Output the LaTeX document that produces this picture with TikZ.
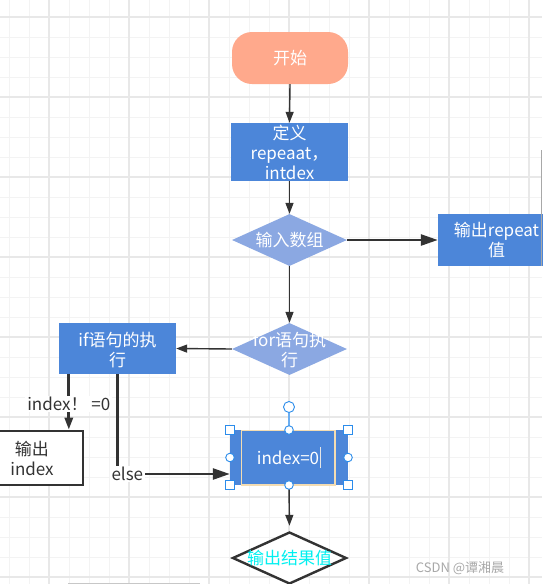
\documentclass[tikz,border=0pt]{standalone}
\usepackage{fontspec}
\setmainfont{Noto Sans CJK SC}
\usetikzlibrary{shapes.geometric,arrows.meta}
\definecolor{gridthin}{HTML}{F3F3F3}
\definecolor{gridthick}{HTML}{E8E8E8}
\definecolor{salmon}{HTML}{FFA98C}
\definecolor{boxblue}{HTML}{4C86D9}
\definecolor{diablue}{HTML}{8BA8E2}
\definecolor{linec}{HTML}{333333}
\definecolor{handlec}{HTML}{2B8CEB}
\definecolor{tanc}{HTML}{F3DCB2}
\definecolor{markc}{HTML}{A8A8A8}
\definecolor{cyanc}{HTML}{00F0F0}
\begin{document}
\begin{tikzpicture}[x=1pt,y=-1pt,
  txt/.style={font=\fontsize{17}{20}\selectfont, align=center, inner sep=0pt},
  wtxt/.style={txt, text=white},
  proc/.style={rectangle, fill=boxblue, inner sep=0pt, minimum width=117pt, minimum height=52pt},
  dec/.style={diamond, fill=diablue, inner sep=0pt, minimum width=115pt, minimum height=52pt},
  arr/.style={draw=linec, line width=1.4pt, -{Triangle[length=11pt,width=8pt]}},
  arrb/.style={draw=linec, line width=2.6pt, -{Triangle[length=17pt,width=11pt]}},
  arrm/.style={draw=linec, line width=2.8pt, -{Triangle[length=12pt,width=8pt]}},
  lbl/.style={txt, fill=white, text=linec, inner xsep=2pt, inner ysep=1pt},
  hsq/.style={draw=handlec, fill=white, line width=0.9pt},
]
\useasboundingbox (0,0) rectangle (542,584);
\fill[white] (0,0) rectangle (542,584);
% grid
\foreach \x in {9,29,...,541} \draw[gridthin, line width=1pt] (\x,0) -- (\x,584);
\foreach \y in {17,37,...,584} \draw[gridthin, line width=1pt] (0,\y) -- (542,\y);
\foreach \x in {49,129,...,541} \draw[gridthick, line width=1.4pt] (\x,0) -- (\x,584);
\foreach \y in {17,97,...,584} \draw[gridthick, line width=1.4pt] (0,\y) -- (542,\y);
% bottom scrollbar
\draw[black!22, line width=2pt] (68,583.5) -- (200,583.5);

% nodes
\node[rectangle, rounded corners=20pt, fill=salmon, minimum width=116pt, minimum height=52pt, inner sep=0pt] (start) at (290,58) {};
\node[wtxt] (startT) at (start) {开始};

\node[proc, minimum height=58pt] (def) at (289.5,152) {};
\node[wtxt] (defT) at (289.5,152.5) {定义\\repeaat，\\intdex};

\node[dec] (in) at (289.5,240) {};
\node[wtxt] (inT) at (in) {输入数组};

\node[proc] (rep) at (496.5,240) {};
\node[wtxt] (repT) at (rep) {输出repeat\\值};
% right window border
\draw[markc, line width=1pt] (541,150) -- (541,266);

\node[dec] (for) at (289.5,349) {};
\node[wtxt] (forT) at (289.5,350) {for语句执\\行};

\node[proc, minimum height=51pt] (if) at (117.5,348.5) {};
\node[wtxt] (ifT) at (117.5,350) {if语句的执\\行};

\node[rectangle, draw=linec, line width=2.6pt, fill=white, minimum width=102pt, minimum height=54pt, inner sep=0pt] (out) at (32,458) {};
\node[txt, text=linec] (outT) at (32,458) {输出\\index};

\node[proc, minimum width=118pt, minimum height=55pt] (zero) at (289,457.5) {};
\draw[tanc, line width=1.3pt] (241.5,430.5) rectangle (335,485);
\node[wtxt] (zeroT) at (288,458) {index=0};
\draw[white!80!gray, line width=0.8pt] (320.5,447) -- (320.5,468);

\node[diamond, draw=linec, line width=2.4pt, fill=white, inner sep=0pt, minimum width=114pt, minimum height=52pt] (res) at (289.5,558) {};
\node[txt, text=cyanc] (resT) at (289.5,558) {输出结果值};

% connectors
\draw[arr] (start.south) -- (def.north);
\draw[arr] (def.south) -- (in.north);
\draw[arrb] (in.east) -- (rep.west);
\draw[arr] (in.south) -- (for.north);
\draw[arr] (for.west) -- (if.east);
\draw[arrm] ([xshift=10pt]if.south west) -- ([xshift=10pt]if.south west |- out.north)
  node[lbl, pos=0.54] (neq) {index！ =0};
\draw[arrb] ([xshift=-59pt]if.south east) |- ([yshift=-16.5pt]zero.west)
  node[lbl, pos=0.545] (els) {else};
\draw[arr, shorten >=5pt] (zero.south) -- (res.north);

% selection handles
\draw[handlec!70, line width=1.2pt] (289,413) -- (289,430);
\draw[hsq] (289,407) circle (5.5pt);
\foreach \px/\py in {230/430,348/430,230/485,348/485}
  \draw[hsq] (\px-4.5,\py-4.5) rectangle (\px+4.5,\py+4.5);
\foreach \px/\py in {230/457.5,348/457.5,289/430,289/485}
  \draw[hsq] (\px,\py) circle (4.3pt);

% watermark
\node[txt, text=markc, font=\fontsize{13}{15}\selectfont] (wm) at (460,568) {CSDN @谭湘晨};
\end{tikzpicture}
\end{document}
